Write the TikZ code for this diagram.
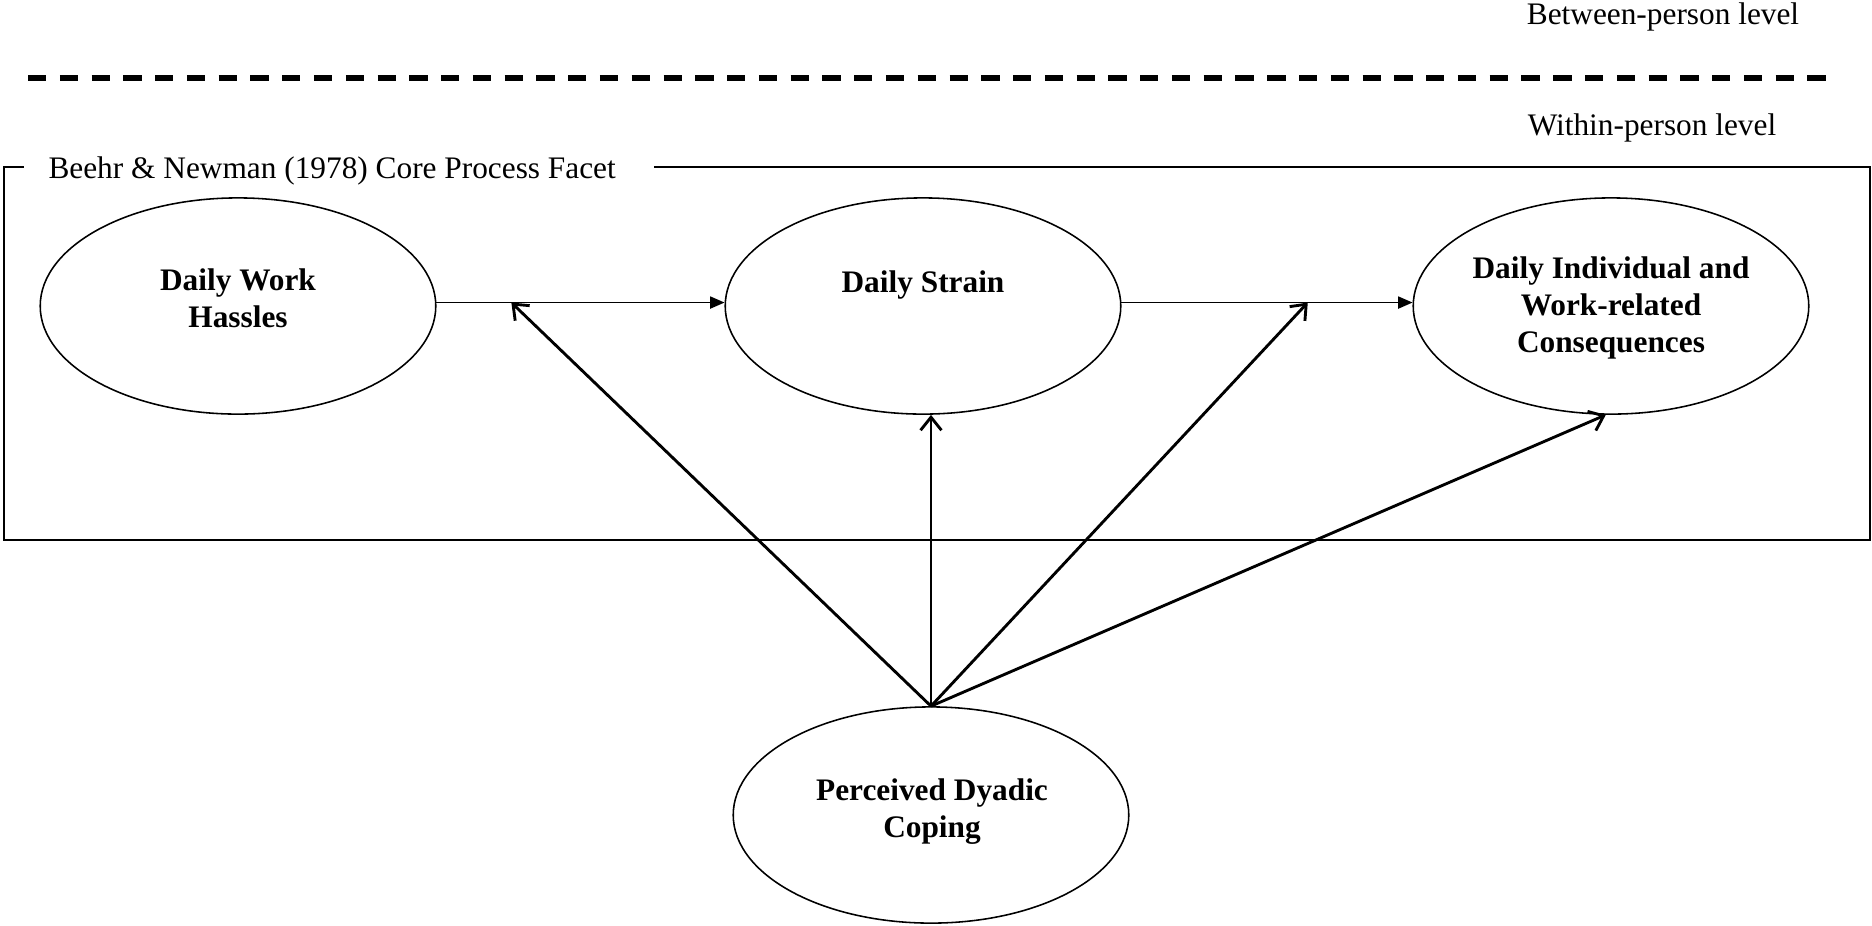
\documentclass[tikz,border=0pt]{standalone}
\usepackage{fontspec}
\setmainfont{Liberation Serif}
\usetikzlibrary{shapes.geometric,arrows.meta,calc}
\tikzset{
  x=0.383pt, y=-0.383pt,
  latent/.style={ellipse, draw, line width=0.6pt, minimum width=151.5pt, minimum height=82.8pt, inner sep=0pt},
  lbl/.style={font=\bfseries\fontsize{12}{14.2}\selectfont, align=center, inner sep=0pt},
  plain/.style={font=\fontsize{12}{14.2}\selectfont, inner sep=0pt},
  path/.style={line width=0.7pt, -{Triangle[length=5.5pt,width=4.6pt]}},
  moder/.style={line width=1.1pt, -{Straight Barb[length=5pt,width=8pt]}},
  frame/.style={line width=0.6pt},
  level/.style={line width=2.0pt, dash pattern=on 7.0pt off 5.17pt}
}
\begin{document}
\begin{tikzpicture}
\useasboundingbox[fill=white] (0,0) rectangle (1872,925);

% level labels and divider
\node[plain] (between) at (1663,17) {Between-person level};
\node[plain] (within) at (1652,128) {Within-person level};
\coordinate (dl) at (28,78);
\coordinate (dr) at (1826,78);
\draw[level] (dl) -- (dr);

% frame
\coordinate (f1) at (654,167);
\coordinate (f2) at (1870,167);
\coordinate (f3) at (1870,540);
\coordinate (f4) at (4,540);
\coordinate (f5) at (4,167);
\coordinate (f6) at (24,167);
\draw[frame] (f1) -- (f2) -- (f3) -- (f4) -- (f5) -- (f6);
\node[plain, anchor=west] (facet) at (48,171) {Beehr \& Newman (1978) Core Process Facet};

% latent variables
\node[latent] (hassles) at (238,306) {};
\node[latent] (strain) at (923,306) {};
\node[latent] (conseq) at (1611,306) {};
\node[latent] (coping) at (931,815) {};

\node[lbl] (thassles) at (238,298) {Daily Work\\Hassles};
\node[lbl] (tstrain) at (923,285) {Daily Strain};
\node[lbl] (tconseq) at (1611,308) {Daily Individual and\\Work-related\\Consequences};
\node[lbl] (tcoping) at (932,812) {Perceived Dyadic\\Coping};

% main paths
\draw[path] (hassles.1) -- (strain.179);
\draw[path] (strain.1) -- (conseq.179);
\coordinate (m1) at ($(hassles.1)!0.26!(strain.179)$);
\coordinate (m2) at ($(strain.1)!0.64!(conseq.179)$);

% moderation paths
\draw[moder] (coping.north) -- (m1);
\draw[moder] (coping.north) -- (coping.north |- strain.south);
\draw[moder] (coping.north) -- (m2);
\draw[moder] (coping.north) -- ([xshift=-2pt]conseq.south);
\end{tikzpicture}
\end{document}
